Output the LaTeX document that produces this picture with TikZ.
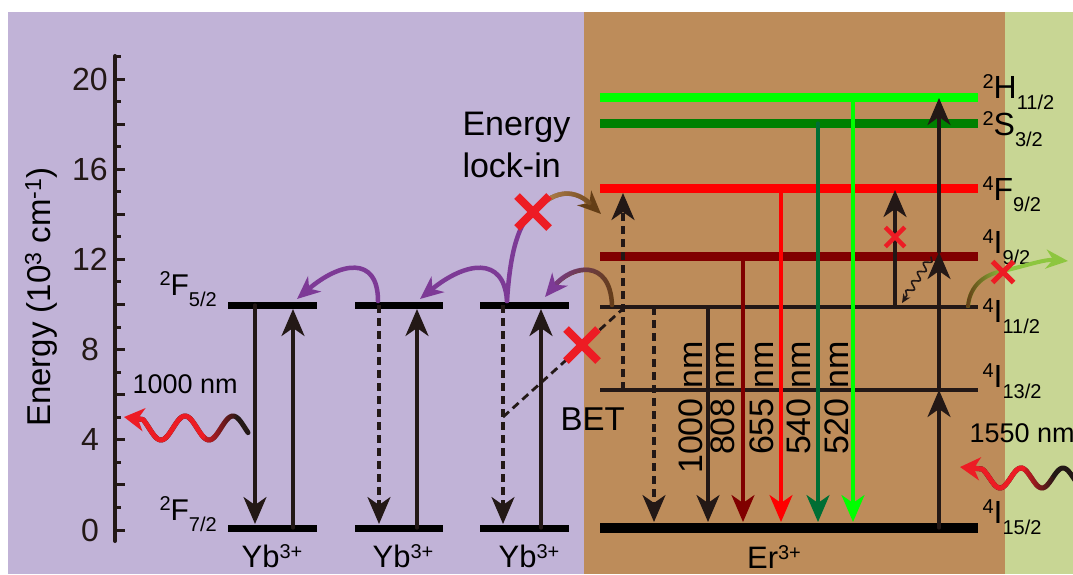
\documentclass[tikz,border=0pt]{standalone}
\usepackage{fontspec}
\setmainfont{Liberation Sans}
\usetikzlibrary{arrows.meta,decorations.pathmorphing,shapes.misc,fadings}

\definecolor{bgpurple}{RGB}{193,179,215}
\definecolor{bgbrown}{RGB}{189,140,90}
\definecolor{bggreen}{RGB}{200,214,148}
\definecolor{hoppurple}{RGB}{125,58,150}
\definecolor{hopbrown}{RGB}{100,62,22}
\definecolor{hoptan}{RGB}{185,135,80}
\definecolor{xred}{RGB}{237,28,36}
\definecolor{ink}{RGB}{35,24,22}
\definecolor{hgreen}{RGB}{0,255,0}
\definecolor{sgreen}{RGB}{0,128,0}
\definecolor{sgreenarrow}{RGB}{0,110,52}
\definecolor{fred}{RGB}{255,0,0}
\definecolor{idred}{RGB}{128,0,0}
\definecolor{leafgreen}{RGB}{141,198,63}

\tikzfading[name=fade west,left color=transparent!0,middle color=transparent!15,right color=transparent!100]
\tikzfading[name=fade lin,left color=transparent!0,right color=transparent!100]

\newcommand{\lvlname}[3]{\raisebox{10pt}{\fontsize{20}{20}\selectfont#1}#2\raisebox{-11pt}{\fontsize{20}{20}\selectfont#3}}
\newcommand{\ionname}[2]{#1\raisebox{9pt}{\fontsize{20}{20}\selectfont#2}}

\begin{document}
\begin{tikzpicture}[x=1pt,y=-1pt,line cap=round,line join=round,font=\fontsize{32}{38}\selectfont,
  lvl/.style={line width=9pt,line cap=butt},
  trans/.style={ink,line width=3.2pt,-{Stealth[length=27pt,width=23pt,inset=8pt]}},
  dtrans/.style={trans,dash pattern=on 8pt off 5pt,line cap=butt},
  hop/.style={hoppurple,line width=4.5pt,-{Stealth[length=23pt,width=20pt,inset=7pt]}},
  photon/.style={line width=5pt,-{Stealth[length=20pt,width=23pt,inset=6pt,color=xred]}},
  xmark/.style={cross out,draw=xred,line cap=butt,inner sep=0pt}]
  \useasboundingbox (0,0) rectangle (1073,574);
  \fill[white] (0,0) rectangle (1073,574);
  \fill[bgpurple] (8,12) rectangle (584,574);
  \fill[bgbrown] (584,12) rectangle (1005,574);
  \fill[bggreen] (1005,12) rectangle (1073,574);

  \draw[ink,line width=4pt] (115,56) -- (115,541);
  \foreach \k in {0,2,...,20} \draw[ink,line width=3pt,line cap=butt] (115,{530-22.55*\k}) -- ++(10,0);
  \foreach \k in {1,3,...,21} \draw[ink,line width=3pt,line cap=butt] (115,{530-22.55*\k}) -- ++(6,0);
  \foreach \k in {0,4,...,20} \node[ink] (tick\k) at (90,{530-22.55*\k}) {\k};
  \node[rotate=90,font=\fontsize{33}{38}\selectfont] (ytitle) at (41,297) {Energy (10\textsuperscript{3} cm\textsuperscript{-1})};

  \foreach \a/\b in {228/317,355/443,480/569} {
    \draw[lvl,line width=7pt] (\a,305) -- (\b,305);
    \draw[lvl,line width=7pt] (\a,528) -- (\b,528);
  }
  \draw[trans] (255,305) -- (255,524);
  \draw[trans] (293,528) -- (293,309);
  \draw[dtrans] (379,305) -- (379,524);
  \draw[trans] (417,528) -- (417,309);
  \draw[dtrans] (503,305) -- (503,524);
  \draw[trans] (541,528) -- (541,309);
  \node[anchor=base west,font=\fontsize{30}{36}\selectfont] (f52) at (156,295) {\lvlname{2}{F}{5/2}};
  \node[anchor=base west,font=\fontsize{30}{36}\selectfont] (f72) at (156,520) {\lvlname{2}{F}{7/2}};
  \node[anchor=base,inner sep=1pt,font=\fontsize{31}{36}\selectfont] (yb1) at (272,567) {\ionname{Yb}{3+}};
  \node[anchor=base,inner sep=1pt,font=\fontsize{31}{36}\selectfont] (yb2) at (403,567) {\ionname{Yb}{3+}};
  \node[anchor=base,inner sep=1pt,font=\fontsize{31}{36}\selectfont] (yb3) at (529,567) {\ionname{Yb}{3+}};
  \node[anchor=base,inner sep=1pt,font=\fontsize{31}{36}\selectfont] (er) at (774,568) {\ionname{Er}{3+}};

  \draw[lvl,hgreen] (600,97) -- (978,97);
  \draw[lvl,sgreen] (600,123) -- (978,123);
  \draw[lvl,fred] (600,188) -- (978,188);
  \draw[lvl,idred] (600,256) -- (978,256);
  \draw[lvl,line width=3.5pt,ink] (600,307) -- (978,307);
  \draw[lvl,line width=3.5pt,ink] (600,390) -- (978,390);
  \draw[lvl,line width=10pt] (600,528) -- (978,528);

  \draw[dtrans] (654,307) -- (654,522);
  \draw[trans] (708,307) -- (708,522);
  \draw[trans,idred] (743,256) -- (743,522);
  \draw[trans,fred] (781,188) -- (781,522);
  \draw[trans,sgreenarrow] (818,123) -- (818,522);
  \draw[trans,hgreen] (853,97) -- (853,522);
  \foreach \px/\wl [count=\i] in {702/1000,734/808,773/655,810/540,848/520}
    \node[rotate=90,anchor=base east,font=\fontsize{34}{40}\selectfont] (wl\i) at (\px,338) {\wl\ nm};
  \draw[dtrans] (623,390) -- (623,193);
  \draw[trans] (939,528) -- (939,390);
  \draw[trans] (939,390) -- (939,252);
  \draw[trans] (939,252) -- (939,98);
  \draw[trans] (895,307) -- (895,190);
  \node[xmark,minimum size=15pt,line width=4.5pt] (xesa) at (895,237) {};
  \draw[ink,line width=1.6pt,decorate,decoration={snake,amplitude=3.5pt,segment length=11pt,post length=7pt},-{Stealth[length=9pt,width=8pt]}] (931,257) -- (902,303);

  \node[anchor=base west] (h112) at (979,98) {\lvlname{2}{H}{11/2}};
  \node[anchor=base west] (s32) at (979,135) {\lvlname{2}{S}{3/2}};
  \node[anchor=base west] (f92) at (979,200) {\lvlname{4}{F}{9/2}};
  \node[anchor=base west] (i92) at (979,253) {\lvlname{4}{I}{9/2}};
  \node[anchor=base west] (i112) at (979,322) {\lvlname{4}{I}{11/2}};
  \node[anchor=base west] (i132) at (979,387) {\lvlname{4}{I}{13/2}};
  \node[anchor=base west] (i152) at (979,523) {\lvlname{4}{I}{15/2}};

  \draw[ink,line width=2.8pt,dash pattern=on 8pt off 5pt,line cap=butt] (503,417) -- (625,307);
  \node[xmark,minimum size=24pt,line width=8pt] (xbet) at (582,345) {};
  \node[anchor=base west,font=\fontsize{33}{38}\selectfont] (bet) at (557,430) {BET};

  \draw[hop] (378,301) .. controls (378,255) and (340,262) .. (297,299);
  \draw[hop] (507,301) .. controls (504,255) and (465,262) .. (420,299);
  \draw[hopbrown,line width=4.5pt,-{Stealth[length=23pt,width=20pt,inset=7pt,color=hoppurple]}] (612,305) .. controls (610,258) and (572,265) .. (545,297);
  \draw[hoppurple,line width=4.5pt,path fading=fade west,shorten >=16pt] (612,305) .. controls (610,258) and (572,265) .. (545,297);

  \draw[hoppurple,line width=4.5pt] (507,301) .. controls (510,255) and (517,228) .. (531,213);
  \draw[hopbrown,line width=4.5pt,-{Stealth[length=23pt,width=20pt,inset=7pt]}] (541,205) .. controls (560,188) and (578,192) .. (601,214);
  \draw[hoptan,line width=4.5pt,path fading=fade west,shorten >=16pt] (541,205) .. controls (560,188) and (578,192) .. (601,214);
  \node[xmark,minimum size=24pt,line width=8pt] (xlock) at (533,212) {};
  \node[anchor=base west,font=\fontsize{34}{40}\selectfont] (lock1) at (459,135) {Energy};
  \node[anchor=base west,font=\fontsize{34}{40}\selectfont] (lock2) at (459,177) {lock-in};

  \draw[leafgreen,line width=4pt] (968,306) .. controls (970,285) and (985,274) .. (1003,271);
  \draw[hopbrown,line width=4pt,path fading=fade west] (968,306) .. controls (970,285) and (985,274) .. (1003,271);
  \draw[leafgreen,line width=4pt,-{Stealth[length=22pt,width=19pt,inset=7pt]}] (1003,271) .. controls (1025,266) and (1045,259) .. (1068,261);
  \node[xmark,minimum size=16pt,line width=5pt] (xout) at (1003,272) {};

  \draw[photon,ink] plot[domain=0:105,samples=80] ({248-\x},{428-12*cos(7.5*(\x-15))}) -- (124,417);
  \draw[xred,line width=5pt,shorten >=12pt] plot[domain=45:105,samples=50] ({248-\x},{428-12*cos(7.5*(\x-15))}) -- (124,417);
  \draw[xred,line width=5pt,line cap=butt,path fading=fade lin] plot[domain=12:47,samples=30] ({248-\x},{428-12*cos(7.5*(\x-15))});
  \node[anchor=base west,font=\fontsize{27}{32}\selectfont] (nm1000) at (129,393) {1000 nm};
  \draw[photon,ink] plot[domain=0:96,samples=80] ({1078-\x},{478+10*cos(8.571*(\x-36))}) -- (960,467);
  \draw[xred,line width=5pt,shorten >=12pt] plot[domain=55:96,samples=40] ({1078-\x},{478+10*cos(8.571*(\x-36))}) -- (960,467);
  \draw[xred,line width=5pt,line cap=butt,path fading=fade lin] plot[domain=25:57,samples=30] ({1078-\x},{478+10*cos(8.571*(\x-36))});
  \node[anchor=base west,font=\fontsize{27}{32}\selectfont] (nm1550) at (966,442) {1550 nm};
\end{tikzpicture}
\end{document}
